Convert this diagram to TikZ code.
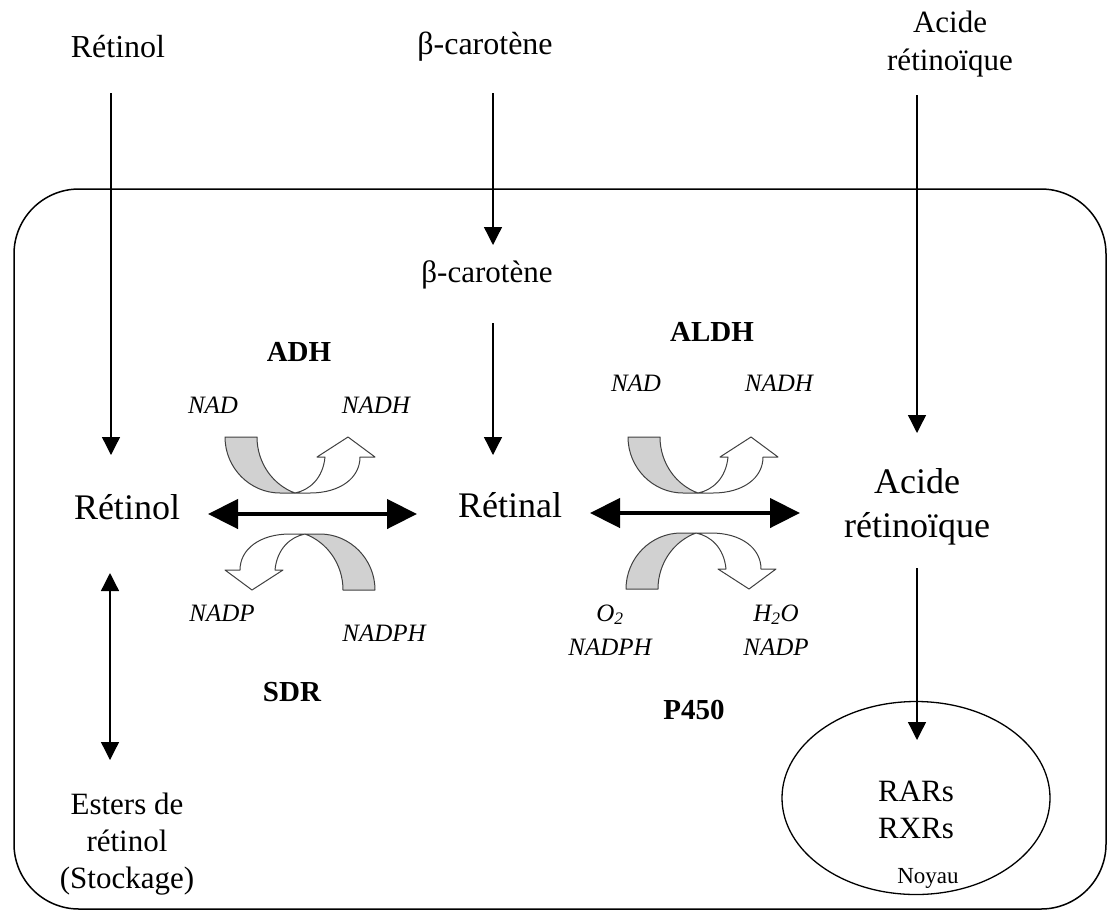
\documentclass[tikz,border=0pt]{standalone}
\usepackage{fontspec}
\setmainfont{Liberation Serif}
\usetikzlibrary{arrows.meta,shapes.geometric}
\begin{document}
\begin{tikzpicture}[x=1pt,y=-1pt,
  lbltop/.style={font=\fontsize{32}{38}\selectfont,align=center,inner sep=0pt},
  lblmain/.style={font=\fontsize{36}{44}\selectfont,align=center,inner sep=0pt},
  lblmid/.style={font=\fontsize{31}{37}\selectfont,align=center,inner sep=0pt},
  cof/.style={font=\fontsize{25}{34}\selectfont\itshape,align=center,inner sep=0pt},
  enz/.style={font=\fontsize{29}{34}\selectfont\bfseries,inner sep=0pt},
  thinarrow/.style={line width=1.3pt,-{Triangle[length=18pt,width=18pt]}},
  thinboth/.style={line width=1.3pt,{Triangle[length=18pt,width=18pt]}-{Triangle[length=18pt,width=18pt]}},
  thickboth/.style={line width=4.5pt,{Triangle[length=30pt,width=29pt]}-{Triangle[length=30pt,width=29pt]}},
  band/.style={draw=black!75,line width=1pt,fill=black!18,line join=round},
  hollow/.style={draw=black!75,line width=1pt,fill=white,line join=round},
  redox/.pic={
    \path[band] (-70,-56) .. controls (-70,-25) and (-45,0) .. (-15,0) -- (0,0)
       .. controls (-22,-8) and (-38,-30) .. (-38,-56) -- cycle;
    \path[hollow] (0,0) -- (15,0) .. controls (45,0) and (65,-15) .. (65,-36)
       -- (80,-36) -- (53,-56) -- (22,-36) -- (30,-36)
       .. controls (28,-15) and (15,-3) .. (0,0) -- cycle;
  }
]
\useasboundingbox (0,0) rectangle (1108,911);

% cell
\draw[line width=1.5pt,rounded corners=65pt] (14,189) rectangle (1106,909);

% top labels
\node[lbltop] (r0) at (118,47) {Rétinol};
\node[lbltop] (b0) at (485,47) {β-carotène};
\node[lbltop,font=\fontsize{31}{38}\selectfont] (a0) at (950,44) {Acide\\rétinoïque};

% inside labels
\node[lblmid] (b1) at (487,275) {β-carotène};
\node[lblmain] (r1) at (127,507) {Rétinol};
\node[lblmain] (l1) at (510,505) {Rétinal};
\node[lblmain] (a1) at (917,507) {Acide\\rétinoïque};
\node[lblmid] (e1) at (127,844) {Esters de\\rétinol\\(Stockage)};

% nucleus
\node[draw,line width=1.3pt,ellipse,minimum width=268pt,minimum height=193pt,inner sep=0pt] (nuc) at (916,798) {};
\node[lblmid] (rar) at (916,810) {RARs\\RXRs};
\node[font=\fontsize{23}{26}\selectfont,inner sep=0pt] (noy) at (928,878) {Noyau};

% enzymes and cofactors
\node[enz] (adh) at (299,352) {ADH};
\node[cof] (nad1) at (213,405) {NAD};
\node[cof] (nadh1) at (376,405) {NADH};
\node[cof] (nadp1) at (222,613) {NADP};
\node[cof] (nadph1) at (384,633) {NADPH};
\node[enz] (sdr) at (292,692) {SDR};

\node[enz] (aldh) at (712,332) {ALDH};
\node[cof] (nad2) at (636,383) {NAD};
\node[cof] (nadh2) at (779,383) {NADH};
\node[cof] (o2) at (610,630) {O\textsubscript{2}\\NADPH};
\node[cof] (h2o) at (776,630) {H\textsubscript{2}O\\NADP};
\node[enz] (p450) at (694,710) {P450};

% connector end points
\coordinate (r0s) at (111,93);
\coordinate (r1n) at (111,455);
\coordinate (b0s) at (493,93);
\coordinate (b1n) at (493,245);
\coordinate (b1s) at (493,323);
\coordinate (l1n) at (493,455);
\coordinate (a0s) at (917,95);
\coordinate (a1n) at (917,433);
\coordinate (a1s) at (917,568);
\coordinate (nucn) at (917,740);
\coordinate (r1s) at (110,573);
\coordinate (e1n) at (110,760);
\coordinate (r1e) at (208,514);
\coordinate (l1w) at (417,514);
\coordinate (l1e) at (590,513);
\coordinate (a1w) at (800,513);

% thin arrows
\draw[thinarrow] (r0s) -- (r1n);
\draw[thinarrow] (b0s) -- (b1n);
\draw[thinarrow] (b1s) -- (l1n);
\draw[thinarrow] (a0s) -- (a1n);
\draw[thinarrow] (a1s) -- (nucn);
\draw[thinboth] (r1s) -- (e1n);

% thick reversible arrows
\draw[thickboth] (r1e) -- (l1w);
\draw[thickboth] (l1e) -- (a1w);

% cofactor block arrows
\pic at (295,493) {redox};
\pic[rotate=180] at (305,534) {redox};
\pic at (698,493) {redox};
\pic[yscale=-1] at (696,533) {redox};
\end{tikzpicture}
\end{document}
